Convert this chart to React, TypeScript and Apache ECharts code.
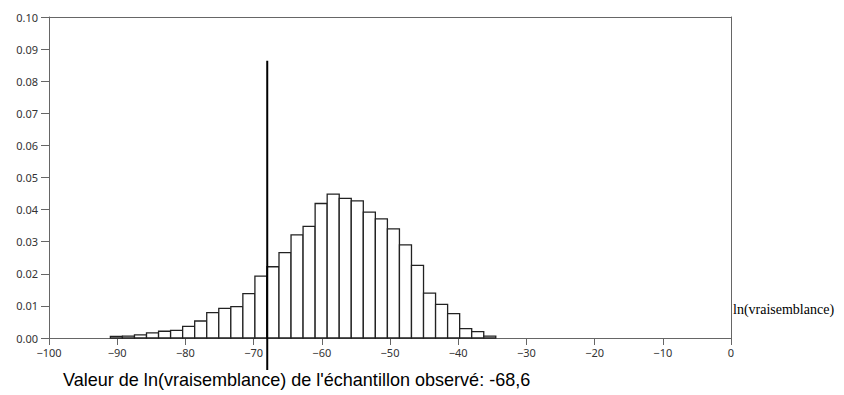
import React, { useEffect, useRef } from "react";
import * as echarts from "echarts";

// Histogram of simulated ln(vraisemblance) values
const binStart = -91.0;
const binWidth = 1.766;
const frequencies = [
  0.0005, 0.0006, 0.001, 0.0016, 0.0021, 0.0024, 0.0036, 0.0053, 0.0079, 0.0092,
  0.0098, 0.0138, 0.0193, 0.0222, 0.0266, 0.0321, 0.0348, 0.0419, 0.0448, 0.0435,
  0.0427, 0.0392, 0.0371, 0.034, 0.029, 0.0226, 0.014, 0.0105, 0.0076, 0.0029,
  0.002, 0.0006,
];
// Observed statistic line: x, top, bottom
const observedLine = [-68.0, 0.0864, -0.01];
const captionText = "Valeur de ln(vraisemblance) de l'échantillon observé: -68,6";
const axisName = "ln(vraisemblance)";
const xMin = -100, xMax = 0, xStep = 10;
const yMin = 0, yMax = 0.1, yStep = 0.01;

export default function App() {
  const ref = useRef<HTMLDivElement>(null);
  useEffect(() => {
    if (!ref.current) return;
    const chart = echarts.init(ref.current, null, { renderer: "svg" });
    const bins = frequencies.map((f, i) => [
      binStart + i * binWidth,
      binStart + (i + 1) * binWidth,
      f,
    ]);
    const axisColor = "#666";
    const frameAxis = {
      type: "value",
      axisLine: { show: true, onZero: false, lineStyle: { color: axisColor, width: 1 } },
      axisTick: { show: false },
      axisLabel: { show: false },
      splitLine: { show: false },
    };
    chart.setOption({
      animation: false,
      backgroundColor: "#fff",
      grid: { left: 49, right: 113, top: 17, bottom: 57 },
      xAxis: [
        {
          type: "value",
          position: "bottom",
          min: xMin,
          max: xMax,
          interval: xStep,
          axisLine: { show: true, onZero: false, lineStyle: { color: axisColor, width: 1 } },
          axisTick: { show: true, length: 7, lineStyle: { color: axisColor } },
          splitLine: { show: false },
          axisLabel: {
            margin: 9,
            color: "#333",
            fontFamily: "Noto Sans",
            fontSize: 11,
            formatter: (v: number) => (v < 0 ? "\u2212" + Math.abs(v) : String(v)),
          },
        },
        { ...frameAxis, position: "top", min: xMin, max: xMax },
      ],
      yAxis: [
        {
          type: "value",
          position: "left",
          min: yMin,
          max: yMax,
          interval: yStep,
          axisLine: { show: true, onZero: false, lineStyle: { color: axisColor, width: 1 } },
          axisTick: { show: true, length: 8, lineStyle: { color: axisColor } },
          splitLine: { show: false },
          axisLabel: {
            margin: 11,
            color: "#333",
            fontFamily: "Noto Sans",
            fontSize: 11,
            formatter: (v: number) => v.toFixed(2),
          },
        },
        { ...frameAxis, position: "right", min: yMin, max: yMax },
      ],
      series: [
        {
          type: "custom",
          data: bins,
          encode: { x: [0, 1], y: 2 },
          renderItem: (params: any, api: any) => {
            const p0 = api.coord([api.value(0), api.value(2)]);
            const p1 = api.coord([api.value(1), 0]);
            return {
              type: "rect",
              shape: { x: p0[0], y: p0[1], width: p1[0] - p0[0], height: p1[1] - p0[1] },
              style: { fill: "#fff", stroke: "#222", lineWidth: 1.3 },
            };
          },
        },
        {
          type: "custom",
          clip: false,
          data: [observedLine],
          encode: { x: 0, y: [1, 2] },
          renderItem: (params: any, api: any) => {
            const a = api.coord([api.value(0), api.value(1)]);
            const b = api.coord([api.value(0), api.value(2)]);
            return {
              type: "line",
              shape: { x1: a[0], y1: a[1], x2: b[0], y2: b[1] },
              style: { stroke: "#000", lineWidth: 2 },
            };
          },
        },
      ],
      graphic: [
        {
          type: "text",
          left: 733,
          top: 302,
          style: {
            text: axisName,
            fontFamily: "Liberation Serif",
            fontSize: 14,
            fill: "#000",
          },
        },
        {
          type: "text",
          x: 63,
          y: 379,
          scaleX: 0.95,
          style: {
            text: captionText,
            fontFamily: "Liberation Sans, Arial",
            fontSize: 19,
            fill: "#000",
            verticalAlign: "middle",
          },
        },
      ],
    });
    return () => chart.dispose();
  }, []);
  return (
    <div
      ref={ref}
      style={{ position: "fixed", left: 0, top: 0, width: 844, height: 395, background: "#fff" }}
    />
  );
}
